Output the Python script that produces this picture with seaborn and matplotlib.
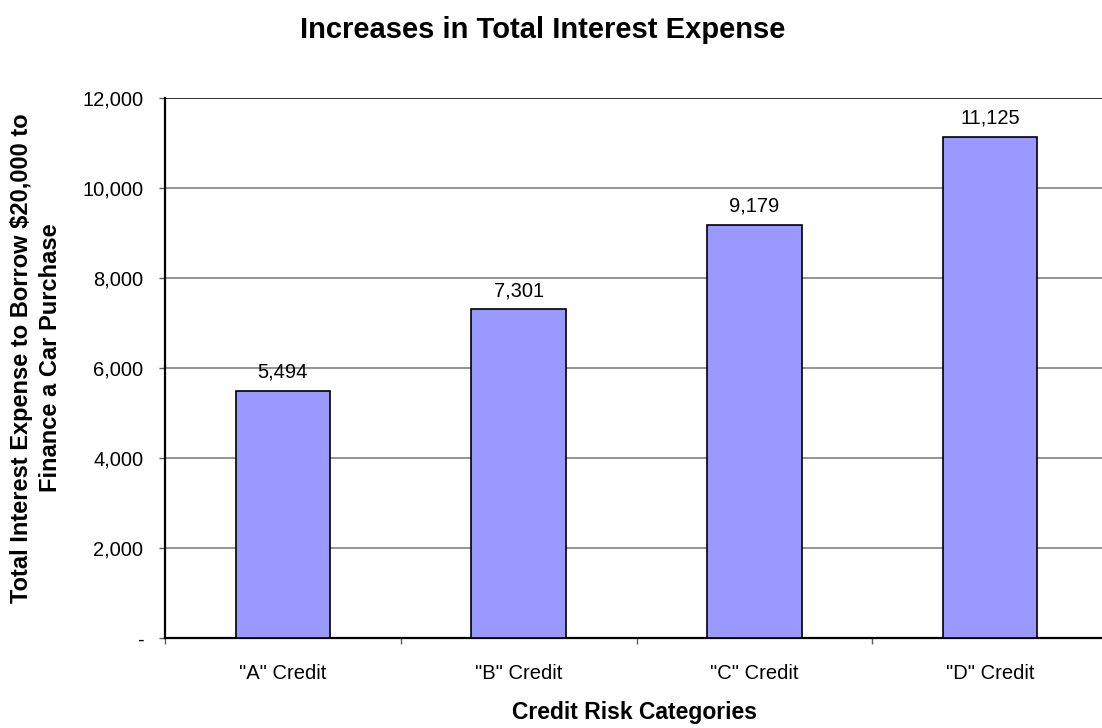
import matplotlib
matplotlib.use("Agg")
import matplotlib.pyplot as plt
import seaborn as sns
import pandas as pd
from matplotlib.ticker import FuncFormatter, MultipleLocator

categories = ['"A" Credit', '"B" Credit', '"C" Credit', '"D" Credit']
interest = [5494, 7301, 9179, 11125]

sns.set_theme(style="white")
plt.rcParams["font.family"] = ["Liberation Sans", "DejaVu Sans"]
plt.rcParams["text.color"] = "black"
plt.rcParams["axes.labelcolor"] = "black"
plt.rcParams["xtick.color"] = "black"
plt.rcParams["ytick.color"] = "black"

df = pd.DataFrame({"category": categories, "interest": interest})

W, H = 1102, 728
fig = plt.figure(figsize=(W / 100, H / 100), dpi=100)
ax = fig.add_axes([165 / W, 1 - 638 / H, 943 / W, 540 / H])

sns.barplot(data=df, x="category", y="interest", color="#9999FF",
            saturation=1, width=0.4, edgecolor="black", linewidth=1.2,
            ax=ax, zorder=3)

ax.set_ylim(0, 12000)
ax.set_xlim(-0.5, len(categories) - 0.5)
ax.yaxis.set_major_locator(MultipleLocator(2000))
ax.yaxis.set_major_formatter(FuncFormatter(lambda v, _: "-" if v == 0 else f"{v:,.0f}"))

# horizontal gridlines
ax.yaxis.grid(True, color="#808080", linewidth=1.2, zorder=0)
ax.set_axisbelow(True)

ax.spines["right"].set_visible(False)
ax.spines["top"].set_visible(False)
ax.axhline(12000, color="#202020", linewidth=1.2, zorder=1)
for side in ("left", "bottom"):
    ax.spines[side].set_color("black")
    ax.spines[side].set_linewidth(1.6)

# category boundary ticks on the x axis
ax.set_xticks(range(len(categories)))
ax.set_xticklabels(categories)
ax.set_xticks([i - 0.5 for i in range(len(categories) + 1)], minor=True)
ax.tick_params(axis="x", which="major", length=0, pad=19, labelsize=14.5)
ax.tick_params(axis="x", which="minor", length=4, width=1, color="#606060",
               direction="out", bottom=True)
ax.tick_params(axis="y", which="major", length=4, width=1, color="#606060",
               direction="out", left=True, labelsize=14.5, pad=11.5)

for i, v in enumerate(interest):
    ax.text(i, v + 210, f"{v:,}", ha="center", va="bottom", fontsize=14.5)

ax.set_xlabel("Credit Risk Categories", fontsize=16.5, fontweight="bold", va="center")
ax.xaxis.set_label_coords((634.5 - 165) / 943, (638 - 713) / 540)
ax.set_ylabel("Total Interest Expense to Borrow $20,000 to\nFinance a Car Purchase",
              fontsize=17, fontweight="bold", va="center", linespacing=1.3)
ax.yaxis.set_label_coords((36 - 165) / 943, (638 - 358) / 540)

fig.text(543 / W, 1 - 38 / H, "Increases in Total Interest Expense",
         ha="center", va="baseline", fontsize=21, fontweight="bold")

fig.savefig("out.png", dpi=100)
